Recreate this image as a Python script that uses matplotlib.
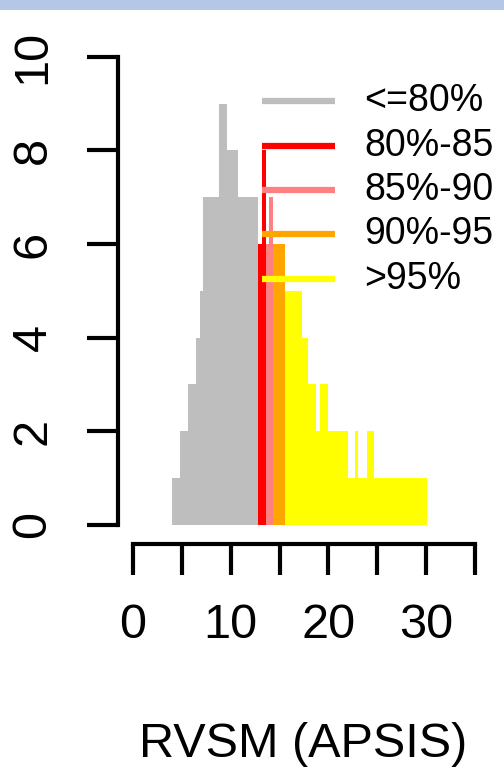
import matplotlib
matplotlib.use('Agg')
import matplotlib.pyplot as plt
from matplotlib.patches import Rectangle

plt.rcParams['font.family'] = ['Liberation Sans', 'DejaVu Sans']

# histogram pieces per class (bin edges, counts)
gray_edges = [3.96, 4.8, 5.65, 6.44, 6.86, 7.2, 8.82, 9.58, 10.77, 12.82]
gray_counts = [1, 2, 3, 4, 5, 7, 9, 8, 7]
red_edges = [12.82, 13.2, 13.58]
red_counts = [6, 8]
pink_edges = [13.58, 13.9, 14.36]
pink_counts = [6, 7]
orange_edges = [14.36, 15.56]
orange_counts = [6]
yellow_edges = [15.56, 17.27, 17.94, 18.73, 19.1, 19.99, 22.04, 22.7, 23.06,
                23.92, 24.67, 30.06]
yellow_counts = [5, 4, 3, 2, 3, 2, 1, 2, 1, 2, 1]

# legend text as visible in the (cropped) original
labels = ['<=80%', '80%-85', '85%-90', '90%-95', '>95%']
colors = ['#bebebe', '#ff0000', '#ff8080', '#ffa500', '#ffff00']

x_ticks = [0, 5, 10, 15, 20, 25, 30, 35]
x_ticklabels = ['0', '', '10', '', '20', '', '30', '']
y_ticks = [0, 2, 4, 6, 8, 10]

W, H = 504, 775
fig = plt.figure(figsize=(W / 100, H / 100), dpi=100)
fig.add_artist(Rectangle((0, 1 - 9.5 / H), 1, 9.5 / H, transform=fig.transFigure,
                         color='#b4c7e7', lw=0))

left, right, bottom, top = 118, 489, 543.7, 38
ax = fig.add_axes([left / W, 1 - bottom / H, (right - left) / W, (bottom - top) / H])
ax.set_xlim(-1.535, 36.43)
ax.set_ylim(-0.4, 10.4)

pieces = [(gray_edges, gray_counts), (red_edges, red_counts), (pink_edges, pink_counts),
          (orange_edges, orange_counts), (yellow_edges, yellow_counts)]
for (edges, counts), c in zip(pieces, colors):
    ax.stairs(counts, edges, fill=True, color=c, lw=0)

# legend, drawn by hand like R's legend(bty="n")
for i, (lab, c) in enumerate(zip(labels, colors)):
    yy = 9.05 - 0.947 * i
    ax.plot([13.2, 20.67], [yy, yy], color=c, lw=4.5, solid_capstyle='butt')
    ax.text(23.7, yy, lab, fontsize=27, va='center', ha='left')

for s in ['top', 'right']:
    ax.spines[s].set_visible(False)
ax.spines['left'].set_bounds(0, 10)
ax.spines['bottom'].set_bounds(0, 35)
for s in ['left', 'bottom']:
    ax.spines[s].set_linewidth(3)

ax.set_xticks(x_ticks)
ax.set_xticklabels(x_ticklabels)
ax.set_yticks(y_ticks)
ax.set_yticklabels([str(v) for v in y_ticks], rotation=90, va='center')
ax.tick_params(axis='both', length=22, width=3, labelsize=35)
ax.tick_params(axis='y', pad=23)
ax.tick_params(axis='x', pad=21)

ax.set_xlabel('RVSM (APSIS)', fontsize=35)
ax.xaxis.set_label_coords(0.5, -0.352)

fig.savefig('out.png', dpi=100)
